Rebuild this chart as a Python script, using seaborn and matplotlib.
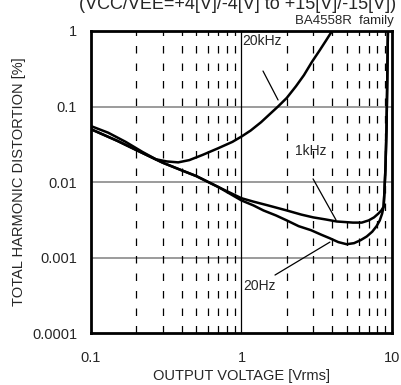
import numpy as np
import pandas as pd
import matplotlib
matplotlib.use("Agg")
import matplotlib.pyplot as plt
import seaborn as sns
from matplotlib.ticker import FixedLocator, NullFormatter


# data (THD [%] vs output voltage [Vrms])
v_20k   = [0.1, 0.13, 0.17, 0.22, 0.27, 0.32, 0.38, 0.45, 0.55, 0.7, 0.87, 1.0, 1.15,
           1.35, 1.55, 1.75, 2.0, 2.3, 2.6, 2.94, 3.3, 3.65, 4.0]
thd_20k = [0.055, 0.045, 0.034, 0.025, 0.0200, 0.0187, 0.0182, 0.0195, 0.0228, 0.028,
           0.034, 0.040, 0.048, 0.062, 0.08, 0.1, 0.13, 0.185, 0.26, 0.39, 0.55, 0.75, 1.0]

v_1k    = [0.1, 0.15, 0.2, 0.3, 0.4, 0.5, 0.7, 1.0, 1.2, 1.5, 2.0, 2.5, 3.0, 3.6, 4.3,
           5.5, 6.3, 7.0, 7.6, 8.1, 8.5, 8.8, 8.9, 9.05, 9.2, 9.3, 9.4]
thd_1k  = [0.050, 0.035, 0.0265, 0.0180, 0.0143, 0.0120, 0.0086, 0.0061, 0.0055, 0.0049,
           0.0042, 0.0037, 0.0034, 0.0032, 0.0030, 0.0029, 0.0029, 0.0031, 0.0034, 0.0038,
           0.0042, 0.0047, 0.007, 0.015, 0.05, 0.2, 1.0]

v_20    = [0.1, 0.15, 0.2, 0.3, 0.4, 0.5, 0.7, 1.0, 1.2, 1.4, 1.7, 2.0, 2.4, 2.9, 3.4,
           3.86, 4.4, 5.0, 5.6, 6.2, 6.8, 7.4, 7.9, 8.3, 8.6, 8.8, 8.9, 9.05, 9.2, 9.3, 9.4]
thd_20  = [0.050, 0.035, 0.0265, 0.0180, 0.0143, 0.0120, 0.0086, 0.0057, 0.0049, 0.0042,
           0.0036, 0.0031, 0.0026, 0.0023, 0.0020, 0.0018, 0.0016, 0.0015, 0.00155, 0.0017,
           0.0019, 0.0022, 0.0026, 0.0031, 0.0038, 0.0047, 0.007, 0.015, 0.05, 0.2, 1.0]

x_ticks = [0.1, 1, 10]
x_tick_labels = ["0.1", "1", "10"]
y_ticks = [0.0001, 0.001, 0.01, 0.1, 1]
y_tick_labels = ["0.0001", "0.001", "0.01", "0.1", "1"]

df = pd.concat([
    pd.DataFrame({"v": v_20k, "thd": thd_20k, "freq": "20kHz"}),
    pd.DataFrame({"v": v_1k, "thd": thd_1k, "freq": "1kHz"}),
    pd.DataFrame({"v": v_20, "thd": thd_20, "freq": "20Hz"}),
])

sns.set_style("white")
plt.rcParams["font.family"] = ["Liberation Sans", "DejaVu Sans"]

fig = plt.figure(figsize=(4.02, 3.85), dpi=100)
ax = fig.add_axes([0.2264, 0.135, 0.7486, 0.7845])

for f in ["20kHz", "1kHz", "20Hz"]:
    sns.lineplot(data=df[df["freq"] == f], x="v", y="thd", ax=ax, color="black",
                 linewidth=1.8, sort=False, estimator=None, legend=False)

ax.set_xscale("log")
ax.set_yscale("log")
ax.set_xlim(0.1, 10)
ax.set_ylim(0.0001, 1)

# grid: gray horizontal decades, dashed minor verticals, solid at 1
for yv in [0.001, 0.01, 0.1]:
    ax.axhline(yv, color="#808080", linewidth=1.1, zorder=1)
ax.axvline(1, color="black", linewidth=0.9, zorder=1)
for dec in [0.1, 1]:
    for k in range(2, 10):
        ax.axvline(dec * k, color="black", linewidth=0.9, linestyle=(0, (6, 8)), zorder=1)

ax.xaxis.set_major_locator(FixedLocator(x_ticks))
ax.set_xticklabels(x_tick_labels)
ax.xaxis.set_minor_formatter(NullFormatter())
ax.yaxis.set_major_locator(FixedLocator(y_ticks))
ax.set_yticklabels(y_tick_labels)
ax.yaxis.set_minor_formatter(NullFormatter())
ax.tick_params(which="both", length=0, labelsize=10.5)
ax.tick_params(axis="x", pad=13)
ax.tick_params(axis="y", pad=10)

for s in ax.spines.values():
    s.set_linewidth(2.0)
    s.set_color("black")

ax.set_xlabel("OUTPUT VOLTAGE [Vrms]", fontsize=10.5, labelpad=3)
ax.set_ylabel("TOTAL HARMONIC DISTORTION [%]", fontsize=10.5, labelpad=4)

# curve labels with leader lines
lead = dict(arrowstyle="-", color="black", lw=0.9, shrinkA=0, shrinkB=0)
ax.annotate("", xy=(1.75, 0.122), xytext=(1.39, 0.295), arrowprops=lead)
ax.text(1.01, 0.74, "20kHz", fontsize=10, ha="left", va="center")
ax.annotate("", xy=(4.25, 0.00314), xytext=(2.99, 0.011), arrowprops=lead)
ax.text(2.27, 0.0258, "1kHz", fontsize=10, ha="left", va="center")
ax.annotate("", xy=(3.87, 0.0016), xytext=(1.67, 0.000586), arrowprops=lead)
ax.text(1.02, 0.00042, "20Hz", fontsize=10, ha="left", va="center")

# header texts (top one is cut off by the image edge in the source)
fig.text(0.59, 1 - 9 / 385, "(VCC/VEE=+4[V]/-4[V] to +15[V]/-15[V])",
         fontsize=13, ha="center", va="baseline")
fig.text(0.98, 1 - 24 / 385, "BA4558R  family", fontsize=9.5, ha="right", va="baseline")

fig.savefig("out.png", dpi=100)
